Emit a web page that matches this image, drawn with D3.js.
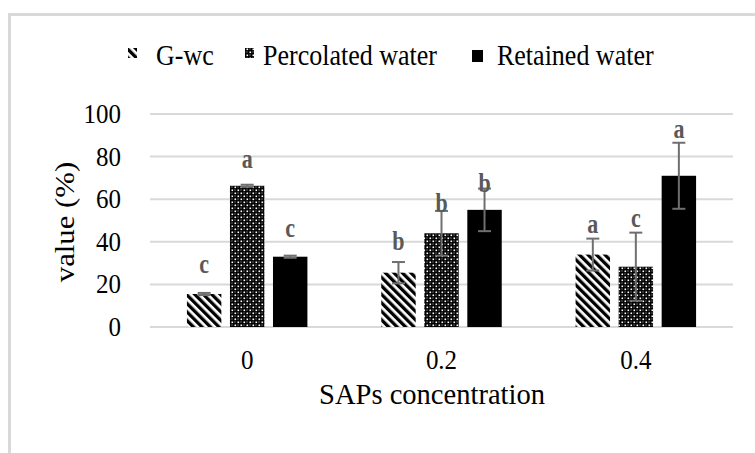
<!DOCTYPE html>
<html>
<head>
<meta charset="utf-8">
<script src="https://cdn.jsdelivr.net/npm/d3@7"></script>
<style>
  body { margin: 0; background: #fff; }
  text { font-family: "Times New Roman", "Liberation Serif", serif; }
</style>
</head>
<body>
<div id="chart"></div>
<script>
// concentrations on the x axis
const categories = ["0", "0.2", "0.4"];
const seriesNames = ["G-wc", "Percolated water", "Retained water"];

// bar values (%) per series
const gwc = [15.5, 25.5, 34];
const percolated = [66.3, 44, 28.3];
const retained = [33, 55, 71];

// error bar half-lengths
const gwcErr = [0.5, 5, 7.5];
const percolatedErr = [0.5, 10.5, 16];
const retainedErr = [0.5, 10, 15.5];

// significance letters and the value level they sit at
const gwcLetters = ["c", "b", "a"];
const percolatedLetters = ["a", "b", "c"];
const retainedLetters = ["c", "b", "a"];
const gwcLetterAt = [25.3, 36, 44];
const percolatedLetterAt = [74.6, 54, 47];
const retainedLetterAt = [42.3, 63.4, 88.7];

const yTicks = [0, 20, 40, 60, 80, 100];

let w = 755,
    h = 453;

let svg = d3.select("#chart")
            .append("svg")
            .attr("width", w)
            .attr("height", h);

let defs = svg.append("defs");

// diagonal stripes for G-wc
let stripes = defs.append("pattern")
                  .attr("id", "stripes")
                  .attr("patternUnits", "userSpaceOnUse")
                  .attr("width", 6)
                  .attr("height", 6)
                  .attr("patternTransform", "rotate(-45)");
stripes.append("rect").attr("width", 6).attr("height", 6).attr("fill", "#fff");
stripes.append("rect").attr("width", 3.3).attr("height", 6).attr("fill", "#000");

// dotted pattern for percolated water
let dots = defs.append("pattern")
               .attr("id", "dots")
               .attr("patternUnits", "userSpaceOnUse")
               .attr("width", 6)
               .attr("height", 6);
dots.append("rect").attr("width", 6).attr("height", 6).attr("fill", "#000");
[[0.5, 0.5], [3.5, 3.5]].forEach(p => {
  dots.append("rect").attr("x", p[0]).attr("y", p[1]).attr("width", 1.6).attr("height", 1.6).attr("fill", "#fff");
});
[[3.5, 0.5], [0.5, 3.5]].forEach(p => {
  dots.append("rect").attr("x", p[0]).attr("y", p[1]).attr("width", 1).attr("height", 1).attr("fill", "#bbb");
});

let fills = ["url(#stripes)", "url(#dots)", "#000"];

let series = [
  {name: seriesNames[0], values: gwc, err: gwcErr, letters: gwcLetters, letterAt: gwcLetterAt},
  {name: seriesNames[1], values: percolated, err: percolatedErr, letters: percolatedLetters, letterAt: percolatedLetterAt},
  {name: seriesNames[2], values: retained, err: retainedErr, letters: retainedLetters, letterAt: retainedLetterAt}
];

// outer frame
svg.append("rect")
   .attr("x", 9.5)
   .attr("y", 14.5)
   .attr("width", 800)
   .attr("height", 500)
   .attr("fill", "none")
   .attr("stroke", "#d9d9d9")
   .attr("stroke-width", 3);

let x0 = d3.scaleBand()
           .domain(categories)
           .range([150, 733])
           .paddingInner(0.38)
           .paddingOuter(0.19);

let x1 = d3.scaleBand()
           .domain(seriesNames)
           .range([0, x0.bandwidth()])
           .paddingInner(0.2);

let y = d3.scaleLinear()
          .domain([0, 100])
          .range([327, 114]);

// gridlines
svg.append("g")
   .selectAll("line")
   .data(yTicks)
   .enter()
   .append("line")
   .attr("x1", 150)
   .attr("x2", 733)
   .attr("y1", d => y(d))
   .attr("y2", d => y(d))
   .attr("stroke", "#d9d9d9")
   .attr("stroke-width", 2);

// y tick labels
svg.append("g")
   .selectAll("text")
   .data(yTicks)
   .enter()
   .append("text")
   .attr("transform", d => `translate(121, ${y(d) + 9}) scale(1, 1.12)`)
   .attr("text-anchor", "end")
   .style("font-size", "25px")
   .attr("fill", "#000")
   .text(d => d);

// x tick labels
svg.append("g")
   .selectAll("text")
   .data(categories)
   .enter()
   .append("text")
   .attr("transform", d => `translate(${x0(d) + x0.bandwidth() / 2}, 369) scale(1, 1.1)`)
   .attr("text-anchor", "middle")
   .style("font-size", "25px")
   .text(d => d);

// axis titles
svg.append("text")
   .attr("transform", "translate(432, 404) scale(1.02, 1.05)")
   .attr("text-anchor", "middle")
   .style("font-size", "28px")
   .text("SAPs concentration");

svg.append("text")
   .attr("transform", "translate(74, 222) rotate(-90) scale(1.1, 1)")
   .attr("text-anchor", "middle")
   .style("font-size", "28px")
   .text("value (%)");

// bars
let groups = svg.append("g")
                .selectAll("g")
                .data(series)
                .enter()
                .append("g");

groups.selectAll("rect")
      .data((s, si) => s.values.map((v, i) => ({cat: categories[i], v: v, name: s.name, si: si})))
      .enter()
      .append("rect")
      .attr("x", d => x0(d.cat) + x1(d.name))
      .attr("y", d => y(d.v))
      .attr("width", x1.bandwidth())
      .attr("height", d => y(0) - y(d.v))
      .attr("fill", d => fills[d.si]);

// error bars
let errs = groups.selectAll("g.err")
                 .data(s => s.values.map((v, i) => ({cat: categories[i], v: v, e: s.err[i], name: s.name})))
                 .enter()
                 .append("g")
                 .attr("class", "err")
                 .attr("stroke", "#6f6f6f")
                 .attr("stroke-width", 2);

errs.append("line")
    .attr("x1", d => x0(d.cat) + x1(d.name) + x1.bandwidth() / 2)
    .attr("x2", d => x0(d.cat) + x1(d.name) + x1.bandwidth() / 2)
    .attr("y1", d => y(d.v - d.e))
    .attr("y2", d => y(d.v + d.e));

[-1, 1].forEach(sign => {
  errs.append("line")
      .attr("x1", d => x0(d.cat) + x1(d.name) + x1.bandwidth() / 2 - 6.5)
      .attr("x2", d => x0(d.cat) + x1(d.name) + x1.bandwidth() / 2 + 6.5)
      .attr("y1", d => y(d.v + sign * d.e))
      .attr("y2", d => y(d.v + sign * d.e));
});

// letters
groups.selectAll("text")
      .data(s => s.letters.map((l, i) => ({cat: categories[i], l: l, at: s.letterAt[i], name: s.name})))
      .enter()
      .append("text")
      .attr("transform", d => `translate(${x0(d.cat) + x1(d.name) + x1.bandwidth() / 2}, ${y(d.at)}) scale(1, 1.2)`)
      .attr("text-anchor", "middle")
      .style("font-size", "22px")
      .style("font-weight", "bold")
      .attr("fill", "#595959")
      .text(d => d.l);

// legend
let legendX = [128, 245, 472];
let legendTextX = [156, 263, 497];
let legendBox = [[9, 10, 48], [9, 10, 48], [11, 12, 50]];

let legend = svg.append("g")
                .selectAll("g")
                .data(seriesNames)
                .enter()
                .append("g");

legend.append("rect")
      .attr("x", (d, i) => legendX[i])
      .attr("y", (d, i) => legendBox[i][2])
      .attr("width", (d, i) => legendBox[i][0])
      .attr("height", (d, i) => legendBox[i][1])
      .attr("fill", (d, i) => fills[i]);

legend.append("text")
      .attr("transform", (d, i) => `translate(${legendTextX[i]}, 65) scale(1, 1.12)`)
      .style("font-size", "26px")
      .text(d => d);
</script>
</body>
</html>
